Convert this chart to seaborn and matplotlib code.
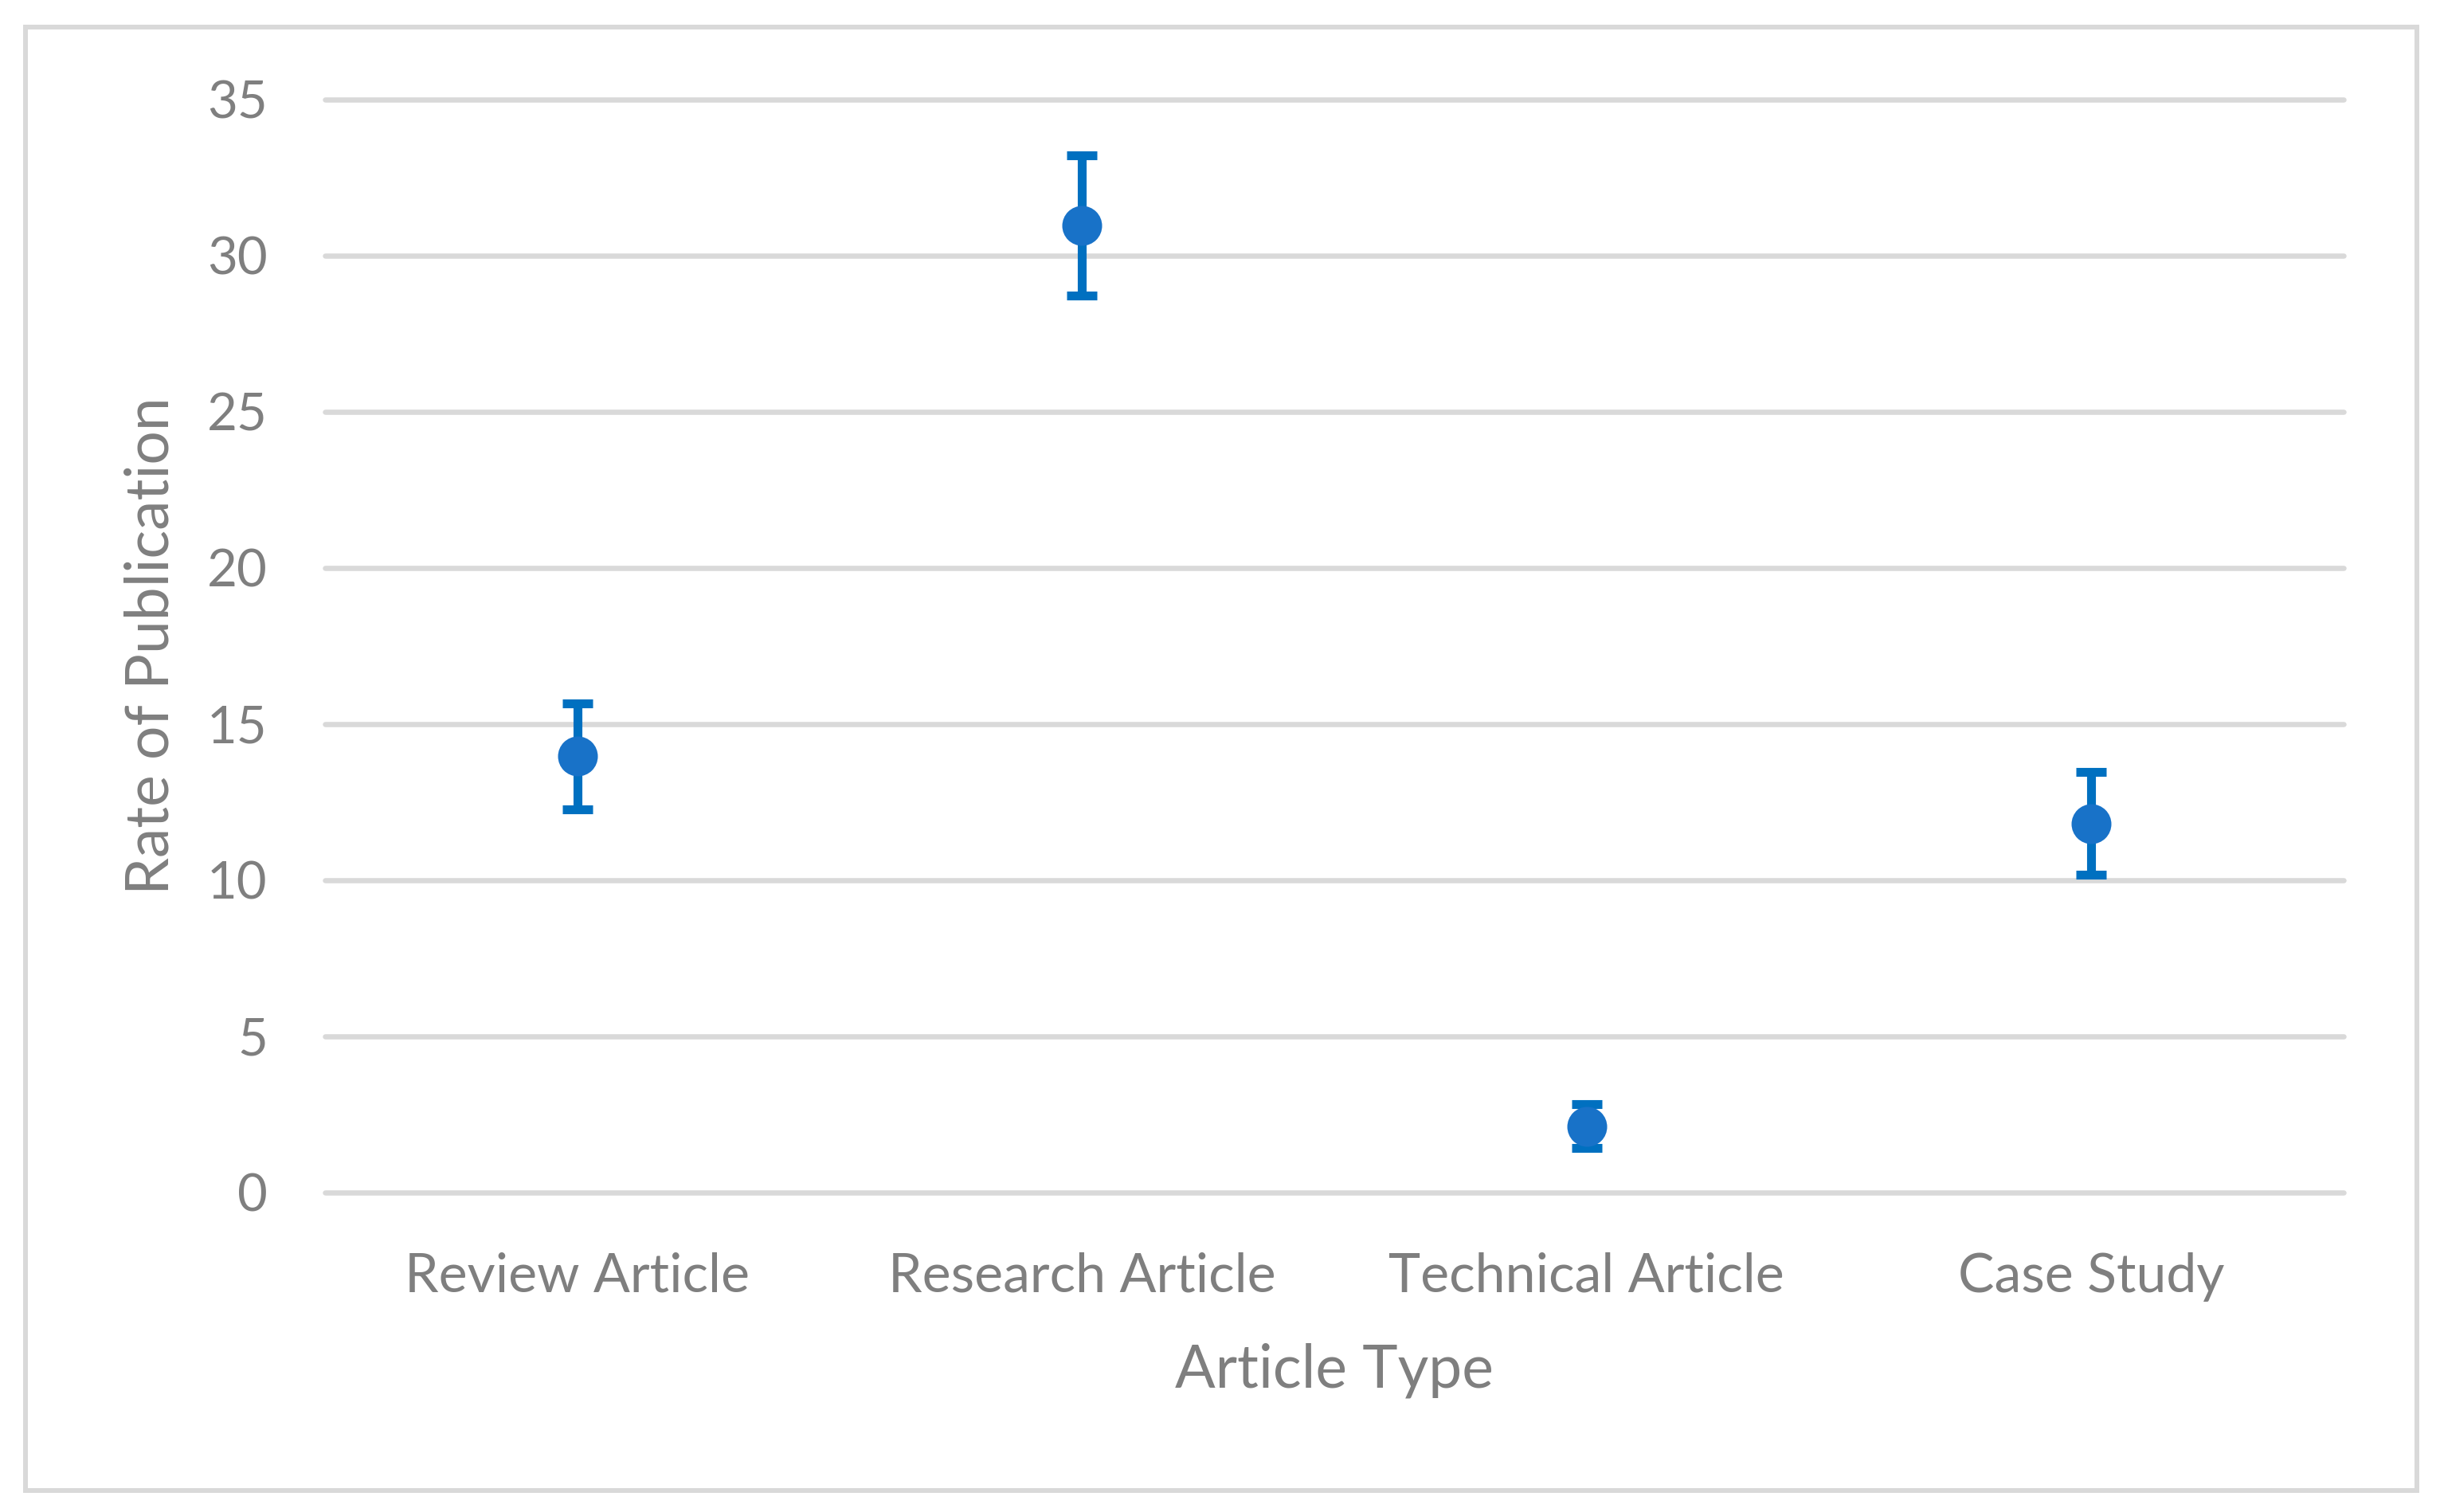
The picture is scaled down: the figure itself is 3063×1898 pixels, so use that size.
import numpy as np
import pandas as pd
import matplotlib
matplotlib.use("Agg")
import matplotlib.pyplot as plt
from matplotlib.patches import Rectangle
import seaborn as sns

# -----------------------------
# DATA
# -----------------------------
categories = ["Review Article", "Research Article", "Technical Article", "Case Study"]
rates = [13.97, 30.96, 2.12, 11.82]
errors = [1.69, 2.24, 0.70, 1.65]
y_ticks = [0, 5, 10, 15, 20, 25, 30, 35]

# -----------------------------
# STYLE
# -----------------------------
TEXT_COLOR = "#7F7F7F"
GRID_COLOR = "#D9D9D9"
MARKER_COLOR = "#1872C8"
ERR_COLOR = "#0070C0"

sns.set_theme(style="white")
plt.rcParams["font.family"] = ["Lato", "DejaVu Sans"]

df = pd.DataFrame({"Article Type": categories, "Rate": rates})

fig = plt.figure(figsize=(30.63, 18.98), dpi=100)
ax = fig.add_axes([0.1332, 0.2113, 0.8273, 0.7229])

# outer chart border
fig.patches.append(Rectangle((0.0105, 0.0142), 0.9801, 0.9679, transform=fig.transFigure,
                             fill=False, edgecolor=GRID_COLOR, linewidth=4.3))

sns.pointplot(data=df, x="Article Type", y="Rate", order=categories, color=MARKER_COLOR,
              linestyle="none", marker="o", markersize=36, markeredgewidth=0,
              errorbar=None, ax=ax)

ax.errorbar(np.arange(len(categories)), rates, yerr=errors, fmt="none", ecolor=ERR_COLOR,
            elinewidth=8, capsize=14, capthick=8, zorder=1.9)

ax.set_xlim(-0.5, len(categories) - 0.5)
ax.set_ylim(0, 35)
ax.set_yticks(y_ticks)

ax.set_axisbelow(True)
ax.yaxis.grid(True, color=GRID_COLOR, linewidth=4.7)
ax.xaxis.grid(False)
for line in ax.get_ygridlines():
    line.set_clip_on(False)
sns.despine(ax=ax, left=True, bottom=True)

ax.tick_params(axis="y", length=0, pad=52, labelsize=47, labelcolor=TEXT_COLOR)
ax.tick_params(axis="x", length=0, pad=54, labelsize=49, labelcolor=TEXT_COLOR)

ax.set_xlabel("Article Type", fontsize=54, color=TEXT_COLOR, va="center")
ax.set_ylabel("Rate of Publication", fontsize=54, color=TEXT_COLOR, va="center")
ax.xaxis.set_label_coords(0.5, -0.163)
ax.yaxis.set_label_coords(-0.086, 0.5)

fig.savefig("out.png", dpi=100)
